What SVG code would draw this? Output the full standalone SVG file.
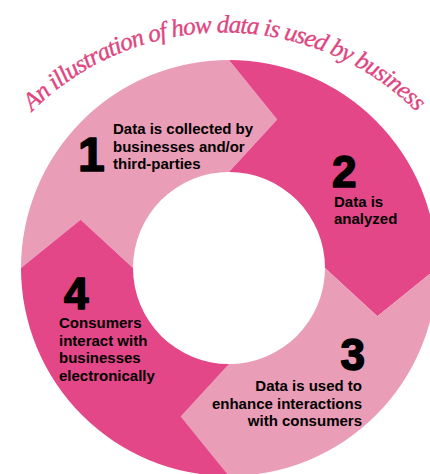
<svg xmlns="http://www.w3.org/2000/svg" xmlns:xlink="http://www.w3.org/1999/xlink" width="430" height="474" viewBox="0 0 430 474">
<defs>
<style>
.light{fill:#EA9DB7;}
.dark{fill:#E34787;}
.num{font-family:"Liberation Sans",Arial,sans-serif;font-weight:bold;fill:#000;stroke:#000;stroke-width:1.6;stroke-linejoin:round;}
.lbl{font-family:"Liberation Sans",Arial,sans-serif;font-weight:bold;font-size:15px;fill:#000;}
.title{font-family:"Liberation Serif","Times New Roman",serif;font-style:italic;font-size:25px;letter-spacing:-0.85px;fill:#E0457F;stroke:#E0457F;stroke-width:0.35;}
</style>
<path id="titleArc" d="M -13,170 A 273 273 0 0 1 461,170"/>
</defs>
<rect width="430" height="474" fill="#fff"/>
<text class="title"><textPath xlink:href="#titleArc" href="#titleArc" startOffset="50%" text-anchor="middle">An illustration of how data is used by business</textPath></text>
<g id="step1">
<path class="light" d="M 21,268 A 208 208 0 0 1 229,60 L 277.2,119.6 L 229,172 A 96 96 0 0 0 133,268 L 80.6,219.8 Z"/>
<text class="num" x="78" y="171" font-size="48">1</text>
<text class="lbl" x="113"><tspan x="113" y="134">Data is collected by</tspan><tspan x="113" y="151.5">businesses and/or</tspan><tspan x="113" y="169">third-parties</tspan></text>
</g>
<g id="step2">
<path class="dark" d="M 229,60 A 208 208 0 0 1 437,268 L 377.4,316.2 L 325,268 A 96 96 0 0 0 229,172 L 277.2,119.6 Z"/>
<text class="num" x="332" y="187" font-size="44">2</text>
<text class="lbl"><tspan x="334" y="207">Data is</tspan><tspan x="334" y="224">analyzed</tspan></text>
</g>
<g id="step3">
<path class="light" d="M 437,268 A 208 208 0 0 1 229,476 L 180.8,416.4 L 229,364 A 96 96 0 0 0 325,268 L 377.4,316.2 Z"/>
<text class="num" x="365" y="370" font-size="44" text-anchor="end">3</text>
<text class="lbl" text-anchor="end"><tspan x="362" y="391">Data is used to</tspan><tspan x="362" y="408.5">enhance interactions</tspan><tspan x="362" y="426">with consumers</tspan></text>
</g>
<g id="step4">
<path class="dark" d="M 229,476 A 208 208 0 0 1 21,268 L 80.6,219.8 L 133,268 A 96 96 0 0 0 229,364 L 180.8,416.4 Z"/>
<text class="num" x="64" y="309" font-size="44">4</text>
<text class="lbl"><tspan x="59" y="328">Consumers</tspan><tspan x="59" y="345.5">interact with</tspan><tspan x="59" y="363">businesses</tspan><tspan x="59" y="380.5">electronically</tspan></text>
</g>
<g id="connectors"/>
</svg>
